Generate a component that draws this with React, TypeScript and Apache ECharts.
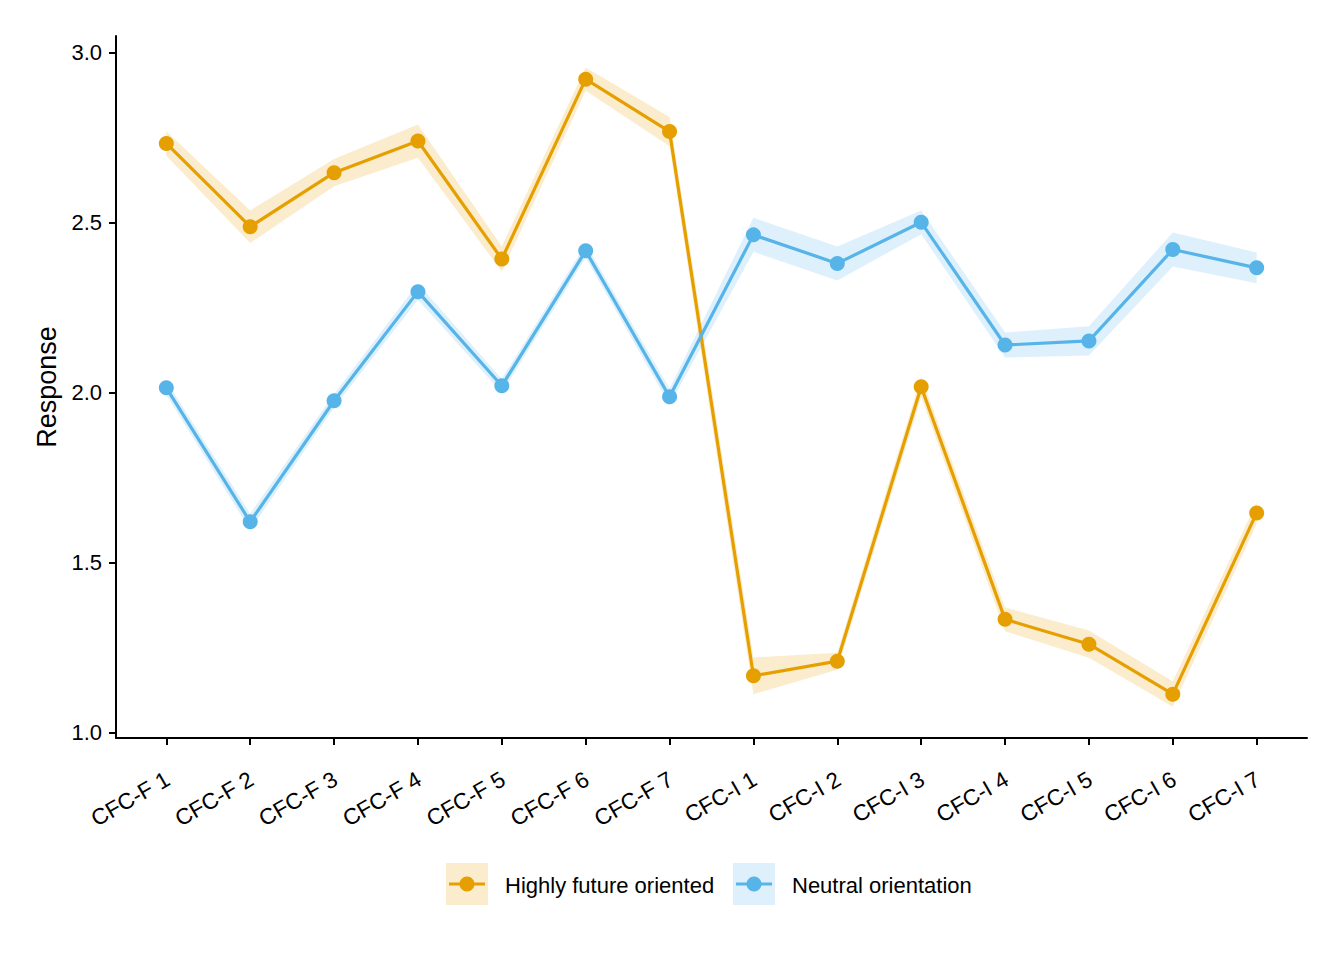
import React, { useEffect, useRef } from "react";
import * as echarts from "echarts";

const categories = [
  "CFC-F 1", "CFC-F 2", "CFC-F 3", "CFC-F 4", "CFC-F 5", "CFC-F 6", "CFC-F 7",
  "CFC-I 1", "CFC-I 2", "CFC-I 3", "CFC-I 4", "CFC-I 5", "CFC-I 6", "CFC-I 7",
];
const highMean = [2.733, 2.488, 2.647, 2.740, 2.393, 2.922, 2.768, 1.167, 1.210, 2.017, 1.333, 1.260, 1.113, 1.646];
const highCI = [0.036, 0.048, 0.040, 0.049, 0.037, 0.034, 0.043, 0.054, 0.025, 0.030, 0.035, 0.040, 0.037, 0.032];
const neutralMean = [2.014, 1.620, 1.976, 2.297, 2.020, 2.417, 1.988, 2.464, 2.380, 2.501, 2.140, 2.152, 2.421, 2.367];
const neutralCI = [0.020, 0.024, 0.020, 0.024, 0.020, 0.020, 0.024, 0.050, 0.050, 0.035, 0.037, 0.043, 0.050, 0.045];
const yTicks = [1.0, 1.5, 2.0, 2.5, 3.0];
const seriesNames = ["Highly future oriented", "Neutral orientation"];

const ORANGE = "#E69F00";
const BLUE = "#56B4E9";
const FONT = "'Liberation Sans', Arial, Helvetica, sans-serif";

function ribbon(name: string, mean: number[], ci: number[], fill: string) {
  const lo = mean.map((m, i) => m - ci[i]);
  const hi = mean.map((m, i) => m + ci[i]);
  return {
    type: "custom",
    name: name + " CI",
    silent: true,
    z: 1,
    data: mean.map((m, i) => [i, lo[i], hi[i]]),
    encode: { x: 0, y: [1, 2] },
    renderItem: (params: any, api: any) => {
      if (params.dataIndex !== 0) return null;
      const pts: number[][] = [];
      for (let i = 0; i < mean.length; i++) pts.push(api.coord([i, hi[i]]));
      for (let i = mean.length - 1; i >= 0; i--) pts.push(api.coord([i, lo[i]]));
      return { type: "polygon", shape: { points: pts }, style: { fill } };
    },
  };
}

function lineSeries(name: string, mean: number[], color: string) {
  return {
    type: "line",
    name,
    z: 3,
    data: mean.map((m, i) => [i, m]),
    symbol: "circle",
    symbolSize: 15,
    showSymbol: true,
    lineStyle: { color, width: 3.2 },
    itemStyle: { color },
  };
}

function legendItem(x: number, color: string, fill: string, label: string) {
  return [
    { type: "rect", shape: { x, y: 863, width: 42, height: 42 }, style: { fill } },
    { type: "line", shape: { x1: x + 3, y1: 884, x2: x + 39, y2: 884 }, style: { stroke: color, lineWidth: 3.2 } },
    { type: "circle", shape: { cx: x + 21, cy: 884, r: 7.5 }, style: { fill: color } },
    {
      type: "text",
      x: x + 59,
      y: 885,
      style: { text: label, fill: "#000", font: `22px ${FONT}`, verticalAlign: "middle", align: "left" },
    },
  ];
}

export default function App() {
  const ref = useRef<HTMLDivElement>(null);
  useEffect(() => {
    if (!ref.current) return;
    const chart = echarts.init(ref.current, undefined, { renderer: "svg" });
    const xTicks = categories.map((_, i) => i);
    chart.setOption({
      animation: false,
      backgroundColor: "#fff",
      grid: { left: 116, right: 37, top: 36, bottom: 222 },
      xAxis: {
        type: "value",
        min: -0.6,
        max: 13.6,
        axisLine: { show: true, onZero: false, lineStyle: { color: "#000", width: 2 } },
        axisTick: { show: true, length: 7, lineStyle: { color: "#000", width: 2 }, customValues: xTicks },
        axisLabel: {
          customValues: xTicks,
          formatter: (v: number) => categories[Math.round(v)] ?? "",
          rotate: 30,
          align: "right",
          verticalAlign: "top",
          margin: 27,
          padding: [0, 5, 0, 0],
          fontSize: 22.5,
          color: "#000",
          fontFamily: FONT,
        },
        splitLine: { show: false },
      },
      yAxis: {
        type: "value",
        min: 0.984,
        max: 3.049,
        name: "Response",
        nameLocation: "middle",
        nameGap: 53,
        nameTextStyle: { fontSize: 27, color: "#000", fontFamily: FONT },
        axisLine: { show: true, onZero: false, lineStyle: { color: "#000", width: 2 } },
        axisTick: { show: true, length: 7, lineStyle: { color: "#000", width: 2 }, customValues: yTicks },
        axisLabel: {
          customValues: yTicks,
          formatter: (v: number) => v.toFixed(1),
          margin: 14,
          fontSize: 22,
          color: "#000",
          fontFamily: FONT,
        },
        splitLine: { show: false },
      },
      series: [
        ribbon(seriesNames[0], highMean, highCI, "rgba(230,159,0,0.2)"),
        ribbon(seriesNames[1], neutralMean, neutralCI, "rgba(86,180,233,0.2)"),
        lineSeries(seriesNames[0], highMean, ORANGE),
        lineSeries(seriesNames[1], neutralMean, BLUE),
      ],
      graphic: [
        ...legendItem(446, ORANGE, "rgba(230,159,0,0.2)", seriesNames[0]),
        ...legendItem(733, BLUE, "rgba(86,180,233,0.2)", seriesNames[1]),
      ],
    });
    return () => chart.dispose();
  }, []);
  return (
    <div
      ref={ref}
      style={{ position: "absolute", left: 0, top: 0, width: 1344, height: 960, background: "#fff" }}
    />
  );
}
